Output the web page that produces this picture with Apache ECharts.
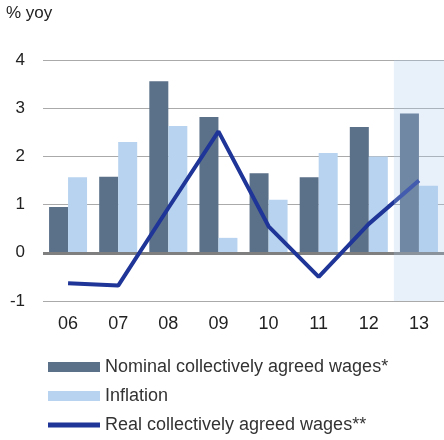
<!DOCTYPE html>
<html><head><meta charset="utf-8">
<script src="https://cdn.jsdelivr.net/npm/echarts@6/dist/echarts.min.js"></script>
<style>html,body{margin:0;padding:0;background:#fff}#c{width:444px;height:440px}</style>
</head><body><div id="c"></div>
<script>
const categories = ['06','07','08','09','10','11','12','13'];
const nominal = [0.95, 1.58, 3.56, 2.82, 1.65, 1.57, 2.61, 2.89];
const inflation = [1.57, 2.30, 2.63, 0.31, 1.10, 2.07, 2.00, 1.39];
const real = [-0.63, -0.68, 0.93, 2.52, 0.55, -0.50, 0.60, 1.50];
const yTicks = [-1, 0, 1, 2, 3, 4];
const shadedIndex = categories.indexOf('13');   // forecast year shaded

const chart = echarts.init(document.getElementById('c'));
chart.setOption({
  animation: false,
  textStyle: {fontFamily: 'Liberation Sans, Arial, sans-serif'},
  graphic: [{type:'text', left: 6, top: 5, style:{text:'% yoy', font:'17px Liberation Sans', fill:'#222'}}],
  grid: {left: 43, right: 0, top: 60, bottom: 139},
  legend: {
    orient: 'vertical', left: 43, top: 353, itemWidth: 52, itemHeight: 10, itemGap: 11,
    textStyle: {fontSize: 18, color: '#333'},
    data: [
      {name:'Nominal collectively agreed wages*', icon:'rect'},
      {name:'Inflation', icon:'rect'},
      {name:'Real collectively agreed wages**', icon:'path://M0,0h104v10H0z'}
    ]
  },
  xAxis: [{
    type: 'category', data: categories,
    axisLine: {show: false}, axisTick: {show: false},
    axisLabel: {fontSize: 18, color: '#222', margin: 14}
  }, {
    type: 'value', min: 0, max: categories.length, show: false
  }],
  yAxis: {
    type: 'value', min: yTicks[0], max: yTicks[yTicks.length-1], interval: 1,
    axisLine: {show:false}, axisTick: {show:false},
    axisLabel: {fontSize: 17, color: '#222', margin: 18},
    splitLine: {lineStyle: {color: '#aaaaaa', width: 1}}
  },
  series: [
    {name:'Nominal collectively agreed wages*', type:'bar', data: nominal,
     itemStyle:{color:'#5b7189'}, barWidth: 19, barGap: '0%', z: 2,
     markLine: {silent:true, z: 3, symbol:'none', label:{show:false},
       lineStyle:{color:'#7f7f7f', width:3, type:'solid'}, data:[{yAxis:0}]}},
    {name:'Inflation', type:'bar', data: inflation,
     itemStyle:{color:'#b7d3ef'}, barWidth: 19, barGap: '0%', z: 2},
    {name:'Real collectively agreed wages**', type:'line', data: real,
     symbol:'none', lineStyle:{color:'#1f3597', width:4}, itemStyle:{color:'#1f3597'}, z: 4},
    {name:'shade', type:'line', xAxisIndex: 1, data: [], z: 6, silent: true,
     markArea: {silent:true, z: 6, itemStyle:{color:'rgba(171,199,235,0.27)'},
       data:[[{xAxis: shadedIndex, yAxis: -1.05}, {xAxis: shadedIndex + 1, yAxis: 4}]]}
    }
  ]
});
</script></body></html>
